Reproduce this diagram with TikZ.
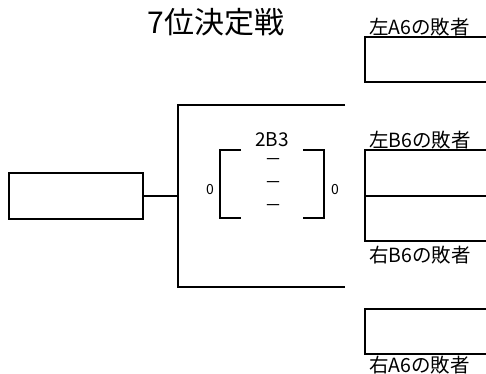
\documentclass[tikz,border=0pt]{standalone}
\usepackage{fontspec}
\setmainfont{Noto Sans CJK JP}
\begin{document}
\begin{tikzpicture}[x=1pt,y=-1pt, line width=2pt, line join=miter,
	slot/.style={draw, minimum width=134pt, minimum height=46pt, inner sep=0pt},
	loser/.style={font=\fontsize{19.5}{19.5}\selectfont, inner sep=0pt},
	scoretxt/.style={font=\fontsize{14}{14}\selectfont, inner sep=0pt}]
	\useasboundingbox (0,0) rectangle (486,373);
	\def\xb{365} \def\xe{486} % Slot
	\node[font=\fontsize{30}{30}\selectfont] (title) at (216,22) {7位決定戦};
	% Slot bên phải
	\draw (\xe,37) -| (\xb,82) -- (\xe,82);
	\draw (\xe,150) -| (\xb,241) -- (\xe,241) (\xb,196) -- (\xe,196);
	\draw (\xe,309) -| (\xb,354) -- (\xe,354);
	\node[loser, anchor=base west] (la) at (368,34) {左A6の敗者};
	\node[loser, anchor=base west] (lb) at (368,147) {左B6の敗者};
	\node[loser, anchor=base west] (rb) at (368,262) {右B6の敗者};
	\node[loser, anchor=base west] (ra) at (368,372) {右A6の敗者};
	% Thắng
	\node[slot] (win) at (76,196) {};
	\coordinate (top) at (345,105); \coordinate (bot) at (345,287);
	\coordinate (mid) at (178,196);
	\draw (top) -| (mid) |- (bot);
	\draw (win.east) -- (mid);
	% Tỉ số
	\draw (241,150) -| (220,218) -- (241,218);
	\draw (303,150) -| (324,218) -- (303,218);
	\node[font=\fontsize{19}{19}\selectfont] (game) at (272,140) {2B3};
	\foreach \y/\n in {162/s1,185/s2,208/s3} \node[scoretxt, font=\fontsize{17}{17}\selectfont] (\n) at (273,\y) {－};
	\node[scoretxt] (sl) at (210,190) {0};
	\node[scoretxt] (sr) at (335,190) {0};
\end{tikzpicture}
\end{document}
